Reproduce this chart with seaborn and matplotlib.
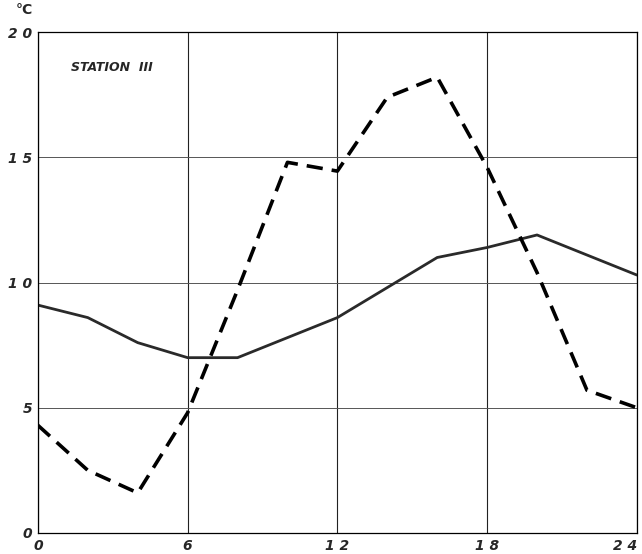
import pandas as pd
import seaborn as sns
import matplotlib.pyplot as plt

# hours of the day
hours = [0, 2, 4, 6, 8, 10, 12, 14, 16, 18, 20, 22, 24]
# temperature (degC), solid curve
temp_solid = [9.1, 8.6, 7.6, 7.0, 7.0, 7.8, 8.6, 9.8, 11.0, 11.4, 11.9, 11.1, 10.3]
# temperature (degC), dashed curve
temp_dashed = [4.3, 2.5, 1.6, 4.8, 9.7, 14.8, 14.45, 17.4, 18.2, 14.6, 10.4, 5.7, 5.0]

x_ticks = [0, 6, 12, 18, 24]
x_labels = ['0', '6', '1 2', '1 8', '2 4']
y_ticks = [0, 5, 10, 15, 20]
y_labels = ['0', '5', '1 0', '1 5', '2 0']

df = pd.DataFrame({'hour': hours, 'solid': temp_solid, 'dashed': temp_dashed})

sns.set_style('white')
plt.rcParams['font.family'] = ['DejaVu Sans']

fig = plt.figure(figsize=(6.42, 5.54), dpi=100)
ax = fig.add_axes([0.059, 0.038, 0.933, 0.904])

sns.lineplot(data=df, x='hour', y='solid', ax=ax, color='#2a2a2a', linewidth=2.0)
sns.lineplot(data=df, x='hour', y='dashed', ax=ax, color='black', linewidth=2.6,
             linestyle=(0, (4.5, 2.5)))

ax.set_xlim(0, 24)
ax.set_ylim(0, 20)
ax.set_xticks(x_ticks)
ax.set_xticklabels(x_labels, fontsize=10, style='italic', fontweight='bold')
ax.get_xticklabels()[-1].set_horizontalalignment('right')
ax.get_xticklabels()[-1].set_x(24.3)
ax.set_yticks(y_ticks)
ax.set_yticklabels(y_labels, fontsize=10, style='italic', fontweight='bold')
ax.tick_params(length=0, pad=4)
ax.xaxis.grid(True, color='#222222', linewidth=0.8)
ax.yaxis.grid(True, color='#555555', linewidth=0.7)
for s in ax.spines.values():
    s.set_color('black')
    s.set_linewidth(0.9)
ax.set_xlabel('')
ax.set_ylabel('')

ax.text(0.055, 0.93, 'STATION  III', transform=ax.transAxes, fontsize=9,
        style='italic', fontweight='bold', va='center')
fig.text(0.024, 0.982, '°C', fontsize=10, fontweight='bold', va='center')

fig.savefig('out.png', dpi=100)
